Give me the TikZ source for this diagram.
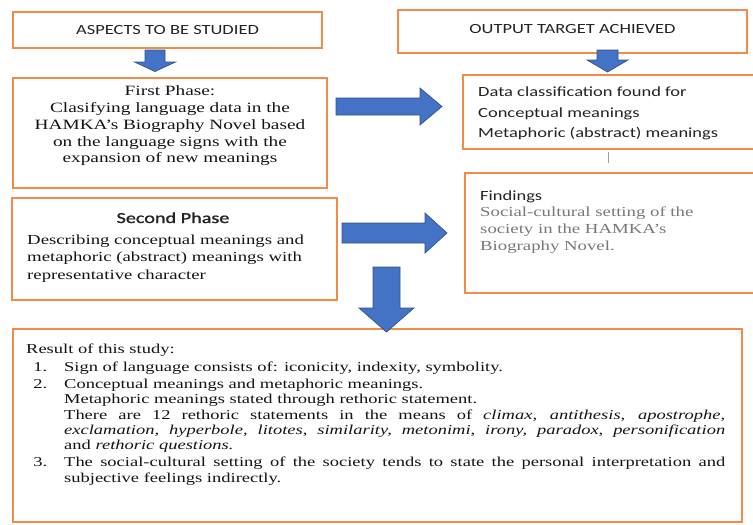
\documentclass[tikz,border=0pt]{standalone}
\usepackage{fontspec}
\setmainfont{Liberation Serif}[FakeStretch=1.36]
\newfontfamily\sansf{Carlito}[FakeStretch=1.32]
\newfontfamily\sansfb{Carlito}[FakeStretch=1.32, FakeBold=1.2]
\definecolor{boxorange}{RGB}{238,140,72}
\definecolor{arrowblue}{RGB}{68,114,196}
\definecolor{arrowedge}{RGB}{47,82,143}
\definecolor{txt}{RGB}{20,20,20}
\definecolor{sanstxt}{RGB}{35,35,35}
\definecolor{graytxt}{RGB}{120,120,120}
\newcommand{\blkdown}[6]{% cx, ytop, ybase, ytip, shaft half, head half
  \filldraw[blockarrow] (#1-#5,#2) -- (#1+#5,#2) -- (#1+#5,#3) -- (#1+#6,#3) -- (#1,#4) -- (#1-#6,#3) -- (#1-#5,#3) -- cycle;}
\newcommand{\blkright}[6]{% cy, xstart, xbase, xtip, shaft half, head half
  \filldraw[blockarrow] (#2,#1-#5) -- (#3,#1-#5) -- (#3,#1-#6) -- (#4,#1) -- (#3,#1+#6) -- (#3,#1+#5) -- (#2,#1+#5) -- cycle;}
\begin{document}
\begin{tikzpicture}[x=1pt,y=-1pt,
  box/.style={draw=boxorange, line width=2.4pt, rectangle, inner sep=0pt, fill=white},
  blockarrow/.style={fill=arrowblue, draw=arrowedge, line width=0.7pt, line join=miter},
  sanslbl/.style={inner sep=0pt, text=sanstxt, font=\sansf\fontsize{14}{16}\selectfont},
  seriflbl/.style={inner sep=0pt, text=txt}]
\useasboundingbox (0,0) rectangle (753,525);
\fill[white] (0,0) rectangle (753,525);

% boxes
\node[box, minimum width=309pt, minimum height=36pt] (asp) at (167.5,30) {};
\node[box, minimum width=349pt, minimum height=43pt] (out) at (572.5,31.5) {};
\node[box, minimum width=314pt, minimum height=110pt] (p1) at (170,133) {};
\node[box, minimum width=297pt, minimum height=74pt] (dc) at (611.5,112) {};
\node[box, minimum width=325pt, minimum height=102pt] (p2) at (174.5,249) {};
\node[box, minimum width=295pt, minimum height=120pt] (fd) at (612.5,233) {};
\node[box, minimum width=729pt, minimum height=193pt] (res) at (377.5,425.5) {};

% texts
\node[sanslbl] (asptext) at (167.5,30) {ASPECTS TO BE STUDIED};
\node[sanslbl] (outtext) at (572.5,29.5) {OUTPUT TARGET ACHIEVED};

\node[seriflbl, anchor=north, text width=300pt, align=center,
      font=\fontsize{14.2}{16.9}\selectfont] (p1text) at (170,85.3)
  {First Phase:\\ Clasifying language data in the\\ HAMKA’s Biography Novel based\\ on the language signs with the\\ expansion of new meanings};

\node[sanslbl, anchor=north west, align=left, font=\sansf\fontsize{14}{20.5}\selectfont] (dctext) at (478,87)
  {Data classification found for\\ Conceptual meanings\\ Metaphoric (abstract) meanings};

\node[sanslbl, anchor=base, font=\sansfb\fontsize{15.3}{17}\selectfont] (p2title) at (173,223) {Second Phase};
\node[seriflbl, anchor=north west, align=left, font=\fontsize{13.8}{17.5}\selectfont] (p2text) at (27,234.6)
  {Describing conceptual meanings and\\ metaphoric (abstract) meanings with\\ representative character};

\node[sanslbl, anchor=base west] (fdtitle) at (480,200) {Findings};
\node[seriflbl, anchor=north west, align=left, text=graytxt, font=\fontsize{13.8}{17}\selectfont] (fdtext) at (480,206.6)
  {Social-cultural setting of the\\ society in the HAMKA’s\\ Biography Novel.};

\node[seriflbl, anchor=north west, text width=699pt, align=justify,
      font=\fontsize{13.6}{15.4}\selectfont] (restext) at (26,343.7)
  {Result of this study:\par\vspace{2.6pt}
   \begin{list}{}{\setlength{\leftmargin}{38pt}\setlength{\labelwidth}{14pt}%
     \setlength{\labelsep}{17pt}\setlength{\itemsep}{1.4pt}\setlength{\topsep}{0pt}%
     \setlength{\parsep}{0pt}\setlength{\partopsep}{0pt}\setlength{\itemindent}{0pt}%
     \setlength{\listparindent}{0pt}}
   \item[1.] Sign of language consists of: iconicity, indexity, symbolity.
   \item[2.] Conceptual meanings and metaphoric meanings.\\
     Metaphoric meanings stated through rethoric statement.\\
     There are 12 rethoric statements in the means of \textit{climax, antithesis, apostrophe,}\linebreak
     \textit{exclamation, hyperbole, litotes, similarity, metonimi, irony, paradox, personification}\linebreak
     and \textit{rethoric questions.}
   \item[3.] The social-cultural setting of the society tends to state the personal interpretation and\linebreak
     subjective feelings indirectly.
   \end{list}};

% connector between output boxes
\coordinate (v1) at (608,152);
\coordinate (v2) at (608,163);
\draw[gray!75, line width=1pt] (v1) -- (v2);

% block arrows
\blkdown{155}{50}{62}{71.5}{10}{20.5}
\blkdown{607.5}{50}{60}{72}{10.5}{20.5}
\blkright{106.5}{336}{420}{442}{8.5}{18.5}
\blkright{233}{342}{425}{447}{10}{20}
\blkdown{386.5}{267}{308}{332}{13.5}{27.5}
\end{tikzpicture}
\end{document}
